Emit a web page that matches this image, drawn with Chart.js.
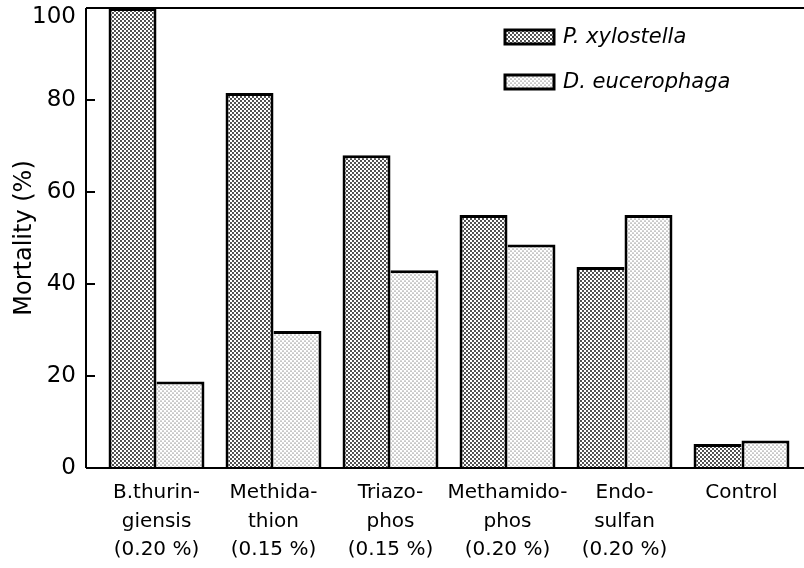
<!DOCTYPE html>
<html>
<head>
<meta charset="utf-8">
<script src="https://cdn.jsdelivr.net/npm/chart.js@4.4.1/dist/chart.umd.min.js"></script>
<style>
  body { margin: 0; background: #fff; }
</style>
</head>
<body>
<canvas id="chart" width="804" height="568"></canvas>
<script>
// data
var treatments = [
  ['B.thurin-', 'giensis', '(0.20 %)'],
  ['Methida-', 'thion', '(0.15 %)'],
  ['Triazo-', 'phos', '(0.15 %)'],
  ['Methamido-', 'phos', '(0.20 %)'],
  ['Endo-', 'sulfan', '(0.20 %)'],
  ['Control']
];
var seriesNames = ['P. xylostella', 'D. eucerophaga'];
var xylostella = [100, 81.5, 68, 55, 43.7, 5.2];
var eucerophaga = [18.8, 29.8, 43, 48.6, 55, 6];
var yTicks = [0, 20, 40, 60, 80, 100];

var canvas = document.getElementById('chart');
var ctx = canvas.getContext('2d');

// dotted screen fills
function dots(r) {
  var tile = document.createElement('canvas');
  tile.width = 4; tile.height = 4;
  var g = tile.getContext('2d');
  g.fillStyle = '#fff';
  g.fillRect(0, 0, 4, 4);
  g.fillStyle = '#000';
  [[1, 1], [3, 3]].forEach(function(p) {
    g.beginPath();
    g.arc(p[0], p[1], r, 0, Math.PI * 2);
    g.fill();
  });
  return ctx.createPattern(tile, 'repeat');
}
var darkDots = dots(0.9);
var lightDots = dots(0.5);

var FONT = "'DejaVu Sans', sans-serif";
var TOP_TICK = yTicks[yTicks.length - 1];

var framePlugin = {
  id: 'frame',
  afterDatasetsDraw: function(chart) {
    var c = chart.ctx, a = chart.chartArea, y = chart.scales.y;
    var x0 = a.left - 12;
    c.save();
    c.strokeStyle = '#000';
    c.lineWidth = 2;
    c.beginPath();
    c.moveTo(x0, a.top); c.lineTo(chart.width, a.top);
    c.moveTo(x0, a.top); c.lineTo(x0, a.bottom);
    c.moveTo(x0, a.bottom); c.lineTo(chart.width, a.bottom);
    yTicks.forEach(function(v) {
      var py = y.getPixelForValue(v);
      c.moveTo(x0, py); c.lineTo(x0 + 9, py);
    });
    c.stroke();

    // top tick label sits just under the frame line
    c.fillStyle = '#000';
    c.font = '23px ' + FONT;
    c.textAlign = 'right';
    c.textBaseline = 'middle';
    c.fillText(String(TOP_TICK), a.left - 22, y.getPixelForValue(TOP_TICK) + 9);

    // legend
    var fills = [darkDots, lightDots];
    c.textAlign = 'left';
    chart.data.datasets.forEach(function(ds, i) {
      var bx = 505, by = 30 + i * 45;
      c.fillStyle = fills[i];
      c.fillRect(bx, by, 49, 14);
      c.lineWidth = 3;
      c.strokeRect(bx, by, 49, 14);
      c.fillStyle = '#000';
      c.font = 'italic 21px ' + FONT;
      c.fillText(ds.label, 563, by + 8);
    });
    c.restore();
  }
};

new Chart(ctx, {
  type: 'bar',
  data: {
    labels: treatments,
    datasets: [
      {
        label: seriesNames[0],
        data: xylostella,
        backgroundColor: darkDots,
        borderColor: '#000',
        borderSkipped: false,
        borderWidth: function(c) {
          var i = c.dataIndex;
          return { top: 3, left: 3, bottom: 0, right: xylostella[i] >= eucerophaga[i] ? 3 : 0 };
        }
      },
      {
        label: seriesNames[1],
        data: eucerophaga,
        backgroundColor: lightDots,
        borderColor: '#000',
        borderSkipped: false,
        borderWidth: function(c) {
          var i = c.dataIndex;
          return { top: 3, right: 3, bottom: 0, left: eucerophaga[i] > xylostella[i] ? 3 : 0 };
        }
      }
    ]
  },
  options: {
    responsive: false,
    animation: false,
    layout: { padding: { top: 8, right: 4, bottom: 0, left: 0 } },
    datasets: { bar: { categoryPercentage: 0.82, barPercentage: 1 } },
    plugins: {
      legend: { display: false },
      tooltip: { enabled: false }
    },
    scales: {
      x: {
        afterFit: function(scale) {
          scale.height = 100;
          scale.paddingLeft = 0;
          scale.paddingRight = 0;
        },
        grid: { display: false, drawTicks: false },
        border: { display: false },
        ticks: {
          color: '#000',
          padding: 11,
          maxRotation: 0,
          autoSkip: false,
          font: { family: FONT, size: 20, lineHeight: 1.42 }
        }
      },
      y: {
        min: 0,
        max: 100,
        afterFit: function(scale) {
          scale.width = 98;
          scale.paddingTop = 0;
          scale.paddingBottom = 0;
        },
        grid: { display: false, drawTicks: false },
        border: { display: false },
        ticks: {
          stepSize: 20,
          color: '#000',
          padding: 22,
          font: { family: FONT, size: 23 },
          callback: function(v) { return v === TOP_TICK ? '' : v; }
        },
        title: {
          display: true,
          text: 'Mortality (%)',
          color: '#000',
          padding: { top: 10, bottom: 0 },
          font: { family: FONT, size: 24 }
        }
      }
    }
  },
  plugins: [framePlugin]
});
</script>
</body>
</html>
